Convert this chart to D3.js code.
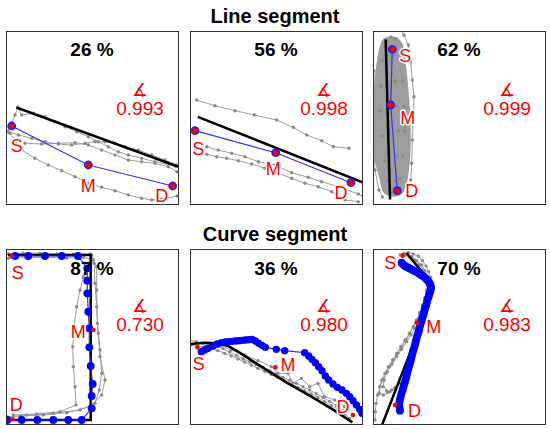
<!DOCTYPE html>
<meta charset="utf-8">
<style>
html, body { margin: 0; background: white; }
svg { display: block; font-family: "Liberation Sans", Arial, sans-serif; }
.frame { fill: none; stroke: #333; stroke-width: 1; }
.track { fill: none; stroke: #9c9c9c; stroke-width: 1; }
.trackdot { fill: #8a8a8a; }
.fit { fill: none; stroke: #000; stroke-width: 2.5; stroke-linecap: square; }
.route { fill: none; stroke: #3030ff; stroke-width: 1.2; }
.mark-label { fill: #ff0000; font-size: 18px; stroke: white; stroke-width: 3px; paint-order: stroke; stroke-linejoin: round; }
</style>
<body>
<script src="https://cdn.jsdelivr.net/npm/d3@7"></script>
<script>

// ---- data ----------------------------------------------------------------
var rowTitles = ["Line segment", "Curve segment"];
var percentLabels = ["26 %", "56 %", "62 %", "87 %", "36 %", "70 %"];
var scores = ["0.993", "0.998", "0.999", "0.730", "0.980", "0.983"];

// frame extents (x range, y range) of each panel, image coords (y down)
var extents = [
  [[0, 172], [0, 173]],
  [[0, 172], [0, 173]],
  [[0, 172], [0, 173]],
  [[0, 172], [0, 175]],
  [[36, 552], [27, 552]],
  [[69, 585], [27, 552]]
];

// line segment A
var lineAGrey = [
  [[11.7,76.3],[9,84],[5.7,92.3],[1.7,100.7]],
  [[11.7,76.3],[15.7,84],[27.3,82.3],[39,85.7],[49,90.7],[59,95.7],[70.7,100.7],[82.3,105.7],[92.3,110.7],[102.3,115.7],[112.3,120.7],[122.3,124],[135.7,127.3],[149,130.7],[169,135]],
  [[2.3,100.7],[12.3,104],[25.7,107.3],[39,110.7],[52.3,113],[65.7,114],[79,112.3],[89,110.7],[99,110.7],[109,112.3],[119,115.7],[132.3,119],[145.7,124],[159,129],[170.7,134]],
  [[19,112.3],[35.7,113],[52.3,112.3],[69,111.7],[82.3,114],[95.7,119],[109,124],[122.3,129],[135.7,130.7],[149,132.3],[162.3,135.7],[171,140.7]],
  [[4,102.3],[15.7,119],[29,127.3],[42.3,134],[55.7,139.7],[69,145.7],[82.3,152.3],[95.7,156.3],[109,159.7],[122.3,164],[135.7,167.3],[145.7,169],[155.7,168.3],[171,165]]
];
var lineAFit = [[11.7,77],[173,136]];
var lineAMarks = [["S",5.7,95],["M",82.3,134],["D",166.7,155]];

// line segment B
var lineBGrey = [
  [[6.7,69],[25,74.7],[45,79.7],[64.3,84],[86.7,89],[103.3,96.3],[116.7,104],[131.7,109.7],[143.3,115.7],[159,117.3]],
  [[16.7,115.7],[28.3,119],[41.7,122.3],[55,125.7],[68.3,130.7],[85,134],[101.7,141.7],[118.3,146.3],[131.7,150.7],[148.3,155.7],[168.3,163],[173,165]],
  [[16.7,123.3],[26.7,125.7],[36.7,127.3],[48.3,129.7],[61.7,133],[75,137.3],[88.3,142.3],[101.7,147.3],[115,152.3],[128.3,155.7],[141.7,160.7],[155,169],[168.3,170.7]]
];
var lineBFit = [[9,86.3],[173,151.5]];
var lineBMarks = [["S",5,99.7],["M",85.7,121.7],["D",161,151.7]];

// line segment C (dense bundle)
var lineCBundle = [[11,7.3],[22.7,5.7],[29.3,12.3],[32.7,32.3],[36,65.7],[37.7,99],[36.7,132.3],[32.7,155.7],[27.7,164],[19.3,165.7],[11,162.3],[6,145.7],[1,125.7],[-0.7,99],[0,65.7],[2.7,39],[6,19]];
var lineCGrey = [
  [[27.7,-1],[31,4],[35.3,14],[37.7,30.7],[39.3,49],[41,65.7],[40.3,85.7],[39.3,109],[38.7,132.3],[37.7,149]],
  [[1,40],[0.5,60],[-0.5,82.3],[0.5,115.7],[2,139],[6,159],[9.3,166]],
  [[14,10],[10,30],[8,55],[7,80],[9,105],[12,130],[15,150],[18,162]],
  [[22,8],[26,28],[30,50],[31,75],[32,100],[30,125],[27,148],[22,162]],
  [[18,6],[20,25],[22,50],[24,75],[25,100],[24,125],[22,150]]
];
var lineCFit = [[12.7,9.7],[17,167.3]];
var lineCMarks = [["S",19.3,18.3],["M",17.7,74],["D",24.3,159.7]];

// curve segment A
var curveAGrey = [
  [[2.3,5],[17.3,4.3],[34,4.3],[50.7,5],[67.3,5.3],[84,5]],
  [[2.3,9.3],[20.7,8.7],[40.7,8.3],[60.7,9],[77.3,8.3],[87.3,11]],
  [[85.7,6],[90.7,17.7],[90.7,41],[91.3,74.3],[94,107.7],[99,131],[95.7,146],[84,157.7],[60.7,163.7],[37.3,166],[14,167],[0.7,167.7]],
  [[85.7,11],[77.3,27.7],[74,41],[70.7,57.7],[68,77.7],[66.7,97.7],[67.3,117.7],[69,137.7],[70,156],[54,162.7],[30.7,165],[7.3,166]],
  [[88,14.3],[89,34.3],[90.7,57.7],[92.3,84.3],[94,101],[95.7,124.3],[93.3,141],[89,154.3],[74,161],[47.3,164.3],[20.7,166],[2.3,168.3]]
];
var curveAFit = [[3.3,6],[84.7,6],[84.7,171],[0.7,171]];
var curveAPath = [[9,7],[22.3,7],[39,7],[55.7,7],[72,7],[81.3,19.3],[81.3,31.7],[81.3,44.3],[82.3,62.7],[83.3,79.3],[83.3,98.3],[84.7,117],[86.7,135],[85.7,147],[85.7,159.3],[75.7,171],[62.3,171],[47.3,171],[31.3,171],[15.7,171],[1.3,171]];
var curveAMarks = [["S",5.7,7],["M",87.3,81],["D",6.7,170.3]];

// curve segment B
var curveBGrey = [
  [[35,300],[55,305],[75,310],[95,314],[115,318],[135,326],[155,336],[175,346],[195,356],[215,365],[235,374],[255,383],[275,392],[295,402],[315,412],[335,421],[355,430],[375,440],[395,450],[415,461],[435,472],[455,484],[475,497],[495,512]],
  [[40,316],[60,318],[80,321],[100,326],[120,332],[140,340],[160,348],[180,357],[200,366],[220,375],[240,385],[260,394],[280,404],[300,413],[320,423],[340,432],[360,442],[380,452],[400,462],[420,473],[440,485],[460,497],[480,508],[500,522],[515,535]],
  [[120,315],[160,330],[200,345],[240,362],[280,380],[300,400],[330,400],[345,430],[370,415],[395,440],[420,430],[440,470],[470,480],[500,500]]
];
var curveBFit = [[35,312],[80,308],[120,310],[150,318],[180,335],[250,380],[330,430],[400,470],[470,512],[520,545]];
var curveBPath = [[70,335],[80,330],[90,325],[105,318],[118,312],[130,308],[142,306],[152,305],[162,304],[172,303],[182,302],[192,301],[202,300],[212,299],[222,298],[232,303],[242,310],[252,316],[262,322],[295,328],[320,332],[380,338],[392,348],[402,358],[412,368],[422,380],[432,392],[442,408],[452,420],[465,432],[478,442],[492,450],[505,460],[515,470],[525,482],[535,495],[545,508],[552,520]];
var curveBMarks = [["S",58,322],["M",292,382],["D",525,525]];

// curve segment C
var curveCGrey = [
  [[150,45],[162,40],[175,38],[190,42],[205,48],[217,62],[228,78],[236,95],[242,112],[241,130],[238,150],[233,170],[228,190],[222,208],[215,225],[205,245],[195,265],[183,285],[170,305],[155,328],[140,350],[126,372],[112,395],[100,418],[90,440],[83,465],[78,490],[76,515],[75,540]],
  [[165,45],[180,52],[195,60],[208,74],[220,90],[228,110],[235,130],[230,152],[225,175],[218,198],[210,220],[200,240],[190,260],[178,280],[165,300],[152,320],[140,340],[128,360],[115,380],[105,400],[95,420],[90,440],[88,460],[100,465],[112,458],[125,450],[135,445]],
  [[185,50],[200,62],[215,75],[225,92],[232,110],[233,130],[230,150],[225,172],[218,195],[209,218],[200,240],[190,260],[180,280],[168,300],[155,320],[143,340],[130,360],[119,380],[108,400],[102,420],[100,440],[110,452],[120,455],[135,442],[150,430]]
];
var curveCFit = [[172,42],[240,125],[232,205],[98,550]];
var curveCPath = [[155,68],[159,73],[164,77],[169,80],[175,83],[181,86],[188,90],[194,93],[200,96],[206,100],[212,104],[218,108],[224,112],[229,117],[234,122],[238,128],[241,134],[243,140],[243,147],[241,154],[238,162],[236,170],[233,178],[231,186],[229,194],[226,202],[224,210],[222,218],[220,226],[217,234],[215,242],[212,250],[210,258],[208,266],[206,274],[204,282],[201,290],[199,298],[197,306],[195,314],[193,322],[190,330],[188,338],[186,346],[184,354],[182,362],[180,370],[177,378],[175,386],[173,394],[171,402],[169,410],[167,418],[165,426],[162,434],[160,442],[158,450],[155,458],[153,466],[151,474],[149,482],[148,490],[148,498],[149,506],[150,512]];
var curveCMarks = [["S",158,47],["M",200,248],["D",135,495]];

// ---- layout ----------------------------------------------------------------
var width = 550, height = 429;
var colX = [6, 190, 373], panelW = 172;
var rowY = [31, 249], rowH = [173, 175];
var titleY = [23, 241];
var pctY = [25, 26], scoreY = [84, 82];

var panels = [
  {kind: "line", extent: extents[0], grey: lineAGrey, fit: lineAFit, marks: lineAMarks, off: [[5,26],[0,27],[-11,15.5]]},
  {kind: "line", extent: extents[1], grey: lineBGrey, fit: lineBFit, marks: lineBMarks, off: [[3.3,24.3],[-2.4,22.3],[-10,16.6]]},
  {kind: "line", extent: extents[2], grey: lineCGrey, bundle: lineCBundle, fit: lineCFit, marks: lineCMarks, off: [[13,12.4],[17,19],[14.4,6]]},
  {kind: "curve", extent: extents[3], grey: curveAGrey, fit: curveAFit, route: curveAPath, marks: curveAMarks, off: [[6,23.3],[-15,8.3],[3.6,-8.6]], dotR: 3.9},
  {kind: "curve", extent: extents[4], grey: curveBGrey, fit: curveBFit, route: curveBPath, marks: curveBMarks, off: [[1.5,22.7],[12.7,3.3],[-10,-1.7]], dotR: 3.7},
  {kind: "curve", extent: extents[5], grey: curveCGrey, fit: curveCFit, route: curveCPath, marks: curveCMarks, off: [[-12.3,13.7],[17.2,10.7],[19.5,11.7]], dotR: 3.9}
];

var svg = d3.select("body").append("svg")
    .attr("width", width)
    .attr("height", height);

rowTitles.forEach(function(t, i) {
  svg.append("text")
      .attr("x", width / 2)
      .attr("y", titleY[i])
      .attr("text-anchor", "middle")
      .attr("font-weight", "bold")
      .attr("font-size", 20)
      .text(t);
});

panels.forEach(function(p, i) {
  var row = Math.floor(i / 3), col = i % 3;
  var w = panelW, h = rowH[row];
  var g = svg.append("g").attr("transform", "translate(" + colX[col] + "," + rowY[row] + ")");

  var x = d3.scaleLinear().domain(p.extent[0]).range([0, w]);
  var y = d3.scaleLinear().domain(p.extent[1]).range([0, h]);
  var line = d3.line().x(function(d) { return x(d[0]); }).y(function(d) { return y(d[1]); });

  g.append("clipPath").attr("id", "clip" + i)
    .append("rect").attr("width", w).attr("height", h);
  var plot = g.append("g").attr("clip-path", "url(#clip" + i + ")");

  if (p.bundle) {
    var closed = d3.line().x(function(d) { return x(d[0]); }).y(function(d) { return y(d[1]); })
        .curve(d3.curveCatmullRomClosed);
    plot.append("path").datum(p.bundle)
        .attr("d", closed)
        .attr("fill", "#9d9d9d");
  }

  plot.selectAll(".track").data(p.grey).enter().append("path")
      .attr("class", "track")
      .attr("d", line);
  p.grey.forEach(function(tr) {
    plot.selectAll(null).data(tr).enter().append("circle")
        .attr("class", "trackdot")
        .attr("cx", function(d) { return x(d[0]); })
        .attr("cy", function(d) { return y(d[1]); })
        .attr("r", 1.7);
  });

  plot.append("path").datum(p.fit)
      .attr("class", "fit")
      .attr("stroke-width", p.kind === "line" ? 2.6 : 2.3)
      .attr("d", line);

  var markPts = p.marks.map(function(m) { return [m[1], m[2]]; });
  if (p.kind === "line") {
    plot.append("path").datum(markPts)
        .attr("class", "route")
        .attr("d", line);
    plot.selectAll(".mark").data(markPts).enter().append("circle")
        .attr("cx", function(d) { return x(d[0]); })
        .attr("cy", function(d) { return y(d[1]); })
        .attr("r", 3.6)
        .attr("fill", "#ff0000")
        .attr("stroke", "#2020ff")
        .attr("stroke-width", 1.6);
  } else {
    plot.append("path").datum(p.route)
        .attr("class", "route")
        .attr("d", line);
    plot.selectAll(".routedot").data(p.route).enter().append("circle")
        .attr("cx", function(d) { return x(d[0]); })
        .attr("cy", function(d) { return y(d[1]); })
        .attr("r", p.dotR)
        .attr("fill", "#0000ff");
    plot.selectAll(".mark").data(markPts).enter().append("circle")
        .attr("cx", function(d) { return x(d[0]); })
        .attr("cy", function(d) { return y(d[1]); })
        .attr("r", 2.3)
        .attr("fill", "#ff0000");
  }

  g.selectAll(".mark-label").data(p.marks).enter().append("text")
      .attr("class", "mark-label")
      .attr("text-anchor", "middle")
      .attr("x", function(d, k) { return x(d[1]) + p.off[k][0]; })
      .attr("y", function(d, k) { return y(d[2]) + p.off[k][1]; })
      .text(function(d) { return d[0]; });

  g.append("text")
      .attr("x", w / 2)
      .attr("y", pctY[row])
      .attr("text-anchor", "middle")
      .attr("font-weight", "bold")
      .attr("font-size", 19)
      .text(percentLabels[i]);

  // angle symbol above the score
  g.append("text")
      .attr("x", 134)
      .attr("y", scoreY[row] - 19)
      .attr("text-anchor", "middle")
      .attr("font-family", "DejaVu Sans")
      .attr("font-size", 18)
      .attr("fill", "#ff0000")
      .text("\u2221");

  g.append("text")
      .attr("x", 134)
      .attr("y", scoreY[row])
      .attr("text-anchor", "middle")
      .attr("font-size", 19)
      .attr("fill", "#ff0000")
      .text(scores[i]);

  g.append("rect")
      .attr("class", "frame")
      .attr("x", 0.5).attr("y", 0.5)
      .attr("width", w).attr("height", h);
});

</script>
